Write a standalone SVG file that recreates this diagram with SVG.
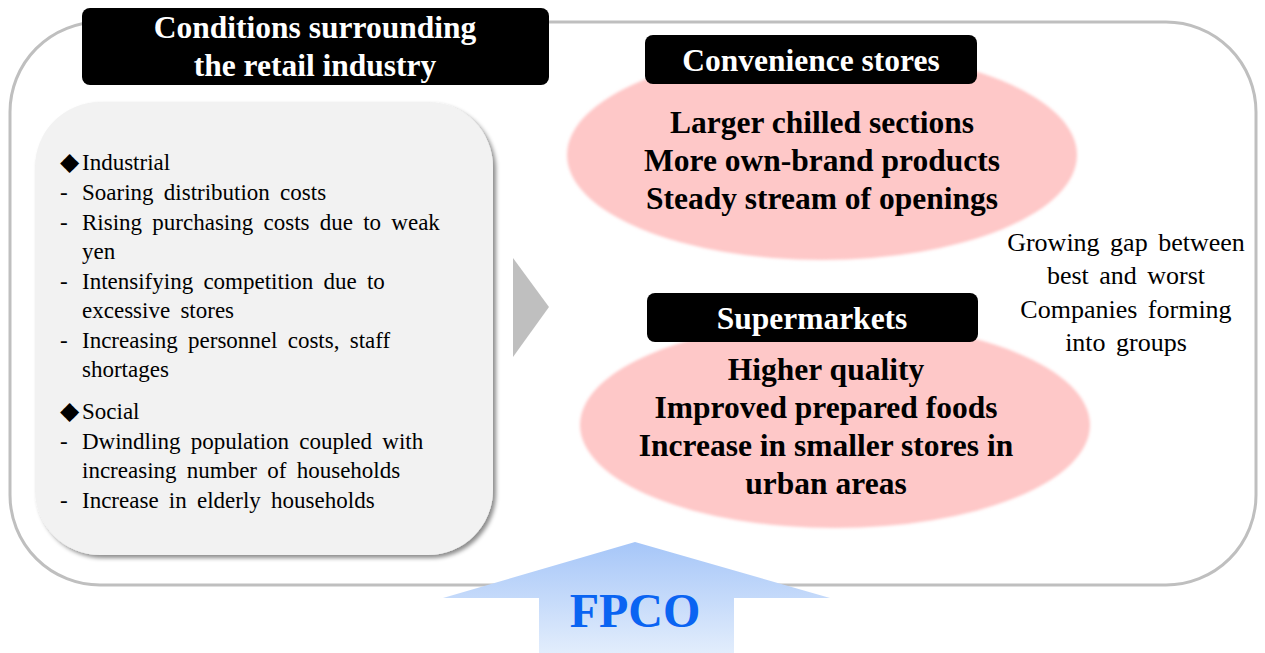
<svg xmlns="http://www.w3.org/2000/svg" width="1265" height="653" viewBox="0 0 1265 653">
  <defs>
    <style>
      .frame { fill: #ffffff; stroke: #bfbfbf; stroke-width: 3; }
      .label-box { fill: #000000; }
      .label { font-family: "Liberation Serif", "Times New Roman", serif; font-weight: bold; font-size: 31.5px; fill: #ffffff; text-anchor: middle; }
      .bold { font-family: "Liberation Serif", "Times New Roman", serif; font-weight: bold; font-size: 31.5px; fill: #000000; text-anchor: middle; }
      .body { font-family: "Liberation Serif", "Times New Roman", serif; font-size: 23px; fill: #000000; word-spacing: 4.5px; }
      .side { font-family: "Liberation Serif", "Times New Roman", serif; font-size: 26px; fill: #000000; text-anchor: middle; word-spacing: 4px; }
      .bullet { font-family: "DejaVu Sans", sans-serif; font-size: 25px; }
      .blob { fill: #fec8c8; }
      .fpco { font-family: "Liberation Serif", "Times New Roman", serif; font-weight: bold; font-size: 48px; fill: #0a64f2; text-anchor: middle; }
    </style>
    <filter id="soft" x="-10%" y="-10%" width="120%" height="120%">
      <feGaussianBlur stdDeviation="1.6"/>
    </filter>
    <filter id="shadow" x="-10%" y="-10%" width="125%" height="125%">
      <feDropShadow dx="3" dy="3" stdDeviation="2" flood-color="#000000" flood-opacity="0.45"/>
    </filter>
    <linearGradient id="arrowFill" x1="0" y1="0" x2="0" y2="1">
      <stop offset="0" stop-color="#a6c6f8"/>
      <stop offset="1" stop-color="#e2edfc"/>
    </linearGradient>
  </defs>

  <!-- outer frame -->
  <rect id="frame" class="frame" x="10" y="22" width="1246" height="563" rx="90" ry="90"/>

  <!-- connectors -->
  <g id="connectors">
    <polygon id="flow-arrow" points="513,258 549,307 513,357" fill="#bfbfbf"/>
    <polygon id="fpco-arrow" points="635,542 830,598 734,598 734,653 539,653 539,598 443,598" fill="url(#arrowFill)"/>
  </g>

  <!-- conditions panel -->
  <g id="conditions">
    <rect class="label-box" x="82" y="8" width="467" height="77" rx="8"/>
    <text class="label" x="315" y="38">Conditions surrounding</text>
    <text class="label" x="315" y="76">the retail industry</text>
  </g>

  <g id="factors">
    <rect x="35" y="102" width="458" height="453" rx="65" ry="65" fill="#f2f2f2" filter="url(#shadow)"/>
    <text class="body" x="60" y="170"><tspan class="bullet">◆</tspan><tspan x="82">Industrial</tspan></text>
    <text class="body" x="60" y="200">-<tspan x="82">Soaring distribution costs</tspan></text>
    <text class="body" x="60" y="229.5">-<tspan x="82">Rising purchasing costs due to weak</tspan></text>
    <text class="body" x="82" y="259">yen</text>
    <text class="body" x="60" y="289">-<tspan x="82">Intensifying competition due to</tspan></text>
    <text class="body" x="82" y="318">excessive stores</text>
    <text class="body" x="60" y="348">-<tspan x="82">Increasing personnel costs, staff</tspan></text>
    <text class="body" x="82" y="377">shortages</text>
    <text class="body" x="60" y="419"><tspan class="bullet">◆</tspan><tspan x="82">Social</tspan></text>
    <text class="body" x="60" y="449">-<tspan x="82">Dwindling population coupled with</tspan></text>
    <text class="body" x="82" y="478">increasing number of households</text>
    <text class="body" x="60" y="508">-<tspan x="82">Increase in elderly households</tspan></text>
  </g>

  <!-- convenience stores -->
  <g id="convenience">
    <ellipse class="blob" cx="822" cy="155" rx="255" ry="105" filter="url(#soft)"/>
    <rect class="label-box" x="645" y="35" width="332" height="49" rx="8"/>
    <text class="label" x="811" y="71">Convenience stores</text>
    <text class="bold" x="822" y="133">Larger chilled sections</text>
    <text class="bold" x="822" y="171">More own-brand products</text>
    <text class="bold" x="822" y="209">Steady stream of openings</text>
  </g>

  <!-- supermarkets -->
  <g id="supermarkets">
    <ellipse class="blob" cx="835" cy="425" rx="255" ry="103" filter="url(#soft)"/>
    <rect class="label-box" x="647" y="293" width="331" height="49" rx="8"/>
    <text class="label" x="812" y="329">Supermarkets</text>
    <text class="bold" x="826" y="380">Higher quality</text>
    <text class="bold" x="826" y="418">Improved prepared foods</text>
    <text class="bold" x="826" y="456">Increase in smaller stores in</text>
    <text class="bold" x="826" y="494">urban areas</text>
  </g>

  <!-- industry trend note -->
  <g id="trend">
    <text class="side" x="1126" y="251">Growing gap between</text>
    <text class="side" x="1126" y="284">best and worst</text>
    <text class="side" x="1126" y="318">Companies forming</text>
    <text class="side" x="1126" y="351">into groups</text>
  </g>

  <!-- FPCO -->
  <g id="fpco">
    <text class="fpco" x="635" y="627">FPCO</text>
  </g>
</svg>
